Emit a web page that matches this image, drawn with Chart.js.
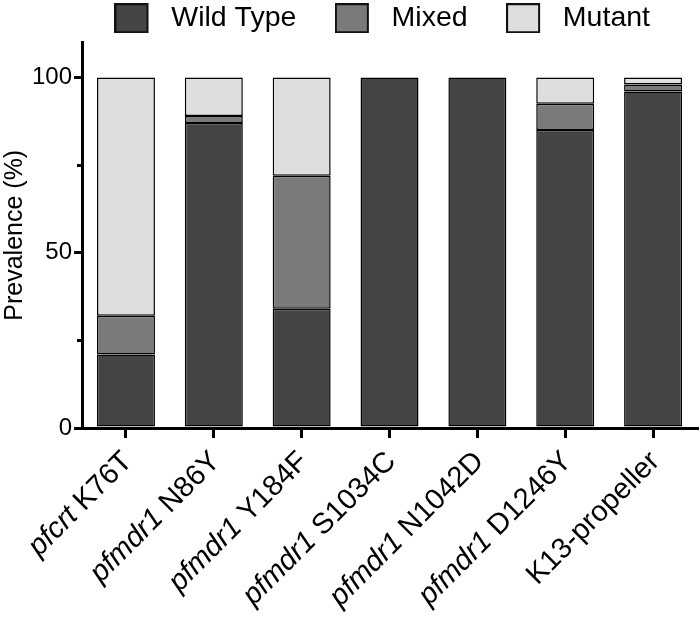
<!DOCTYPE html>
<html>
<head>
<meta charset="utf-8">
<script src="https://cdn.jsdelivr.net/npm/chart.js@4/dist/chart.umd.min.js"></script>
<style>
  html, body { margin: 0; padding: 0; background: #fff; }
  #wrap { width: 700px; height: 618px; position: relative; }
</style>
</head>
<body>
<div id="wrap"><canvas id="prevalence_chart"></canvas></div>
<script>
// gene part (italic) and site part of every x label
var geneNames = ['pfcrt', 'pfmdr1', 'pfmdr1', 'pfmdr1', 'pfmdr1', 'pfmdr1', ''];
var siteNames = ['K76T', 'N86Y', 'Y184F', 'S1034C', 'N1042D', 'D1246Y', 'K13-propeller'];
var categories = geneNames.map(function (g, i) { return (g ? g + ' ' : '') + siteNames[i]; });

var wildType = [21, 87, 34, 100, 100, 85, 96];
var mixed    = [11, 2, 38, 0, 0, 7.5, 2];
var mutant   = [68, 11, 28, 0, 0, 7.5, 2];

var yTicks = [0, 50, 100];
var yMinorTicks = [25, 75];

var seriesLabels = ['Wild Type', 'Mixed', 'Mutant'];
var seriesColors = ['#444444', '#7a7a7a', '#dedede'];

var FONT = '"Liberation Sans", Arial, Helvetica, sans-serif';
Chart.defaults.font.family = FONT;
Chart.defaults.color = '#000';

// legend swatch: box at the left of a wider transparent image
function makeSwatch(color) {
    var c = document.createElement('canvas');
    c.width = 51;
    c.height = 30;
    var g = c.getContext('2d');
    g.fillStyle = color;
    g.fillRect(1, 1, 32, 28);
    g.strokeStyle = '#111';
    g.lineWidth = 2;
    g.strokeRect(1, 1, 32, 28);
    return c;
}
var swatches = seriesColors.map(makeSwatch);

// x labels with italic gene names + short minor ticks on y
var axisExtras = {
    id: 'axisExtras',
    afterDraw: function (chart) {
        var ctx = chart.ctx;
        var xs = chart.scales.x;
        var ys = chart.scales.y;
        ctx.save();
        ctx.strokeStyle = '#000';
        ctx.lineWidth = 3;
        yMinorTicks.forEach(function (v) {
            var py = Math.round(ys.getPixelForValue(v)) + 0.5;
            ctx.beginPath();
            ctx.moveTo(chart.chartArea.left - 5, py);
            ctx.lineTo(chart.chartArea.left, py);
            ctx.stroke();
        });

        ctx.fillStyle = '#000';
        ctx.textBaseline = 'middle';
        ctx.textAlign = 'left';
        categories.forEach(function (c, i) {
            var px = xs.getPixelForValue(i) + 2;
            var py = xs.top + 29;
            var gene = geneNames[i] ? geneNames[i] + ' ' : '';
            ctx.save();
            ctx.translate(px, py);
            ctx.rotate(-Math.PI / 4);
            ctx.font = '29px ' + FONT;
            var sw = ctx.measureText(siteNames[i]).width;
            ctx.fillText(siteNames[i], -sw, 0);
            ctx.font = 'italic 29px ' + FONT;
            var gw = ctx.measureText(gene).width;
            ctx.fillText(gene, -sw - gw, 0);
            ctx.restore();
        });
        ctx.restore();
    }
};

var barStyle = {
    borderColor: '#000',
    borderWidth: 1.5,
    borderSkipped: false,
    categoryPercentage: 1,
    barPercentage: 0.66
};

var PrevalenceChart = new Chart(document.getElementById('prevalence_chart'), {
    type: 'bar',
    data: {
        labels: categories,
        datasets: [
            Object.assign({ label: seriesLabels[0], data: wildType, backgroundColor: seriesColors[0] }, barStyle),
            Object.assign({ label: seriesLabels[1], data: mixed, backgroundColor: seriesColors[1] }, barStyle),
            Object.assign({ label: seriesLabels[2], data: mutant, backgroundColor: seriesColors[2] }, barStyle)
        ]
    },
    options: {
        responsive: true,
        maintainAspectRatio: false,
        animation: false,
        layout: { padding: { top: -43, left: 0, right: 3, bottom: 180 } },
        plugins: {
            tooltip: { enabled: false },
            legend: {
                position: 'top',
                fullSize: true,
                align: 'end',
                labels: {
                    usePointStyle: true,
                    pointStyleWidth: 34,
                    padding: 47,
                    color: '#000',
                    font: { size: 28.5 },
                    generateLabels: function (chart) {
                        return chart.data.datasets.map(function (ds, i) {
                            return {
                                text: ds.label,
                                pointStyle: swatches[i],
                                datasetIndex: i,
                                hidden: false,
                                fillStyle: ds.backgroundColor,
                                strokeStyle: '#000',
                                lineWidth: 0
                            };
                        });
                    }
                }
            }
        },
        scales: {
            x: {
                stacked: true,
                border: { display: true, width: 3, color: '#000' },
                grid: { display: true, drawOnChartArea: false, drawTicks: true, tickLength: 10, lineWidth: 3, color: '#000', offset: false },
                ticks: { display: false }
            },
            y: {
                stacked: true,
                min: 0,
                max: 110,
                border: { display: true, width: 3, color: '#000' },
                grid: { display: true, drawOnChartArea: false, drawTicks: true, tickLength: 8, lineWidth: 3, color: '#000' },
                afterBuildTicks: function (scale) {
                    scale.ticks = yTicks.map(function (v) { return { value: v }; });
                },
                ticks: { padding: 2, color: '#000', font: { size: 24 } },
                title: {
                    display: true,
                    text: 'Prevalence (%)',
                    color: '#000',
                    font: { size: 25 },
                    padding: { top: 0, bottom: 0 }
                }
            }
        }
    },
    plugins: [axisExtras]
});
</script>
</body>
</html>
